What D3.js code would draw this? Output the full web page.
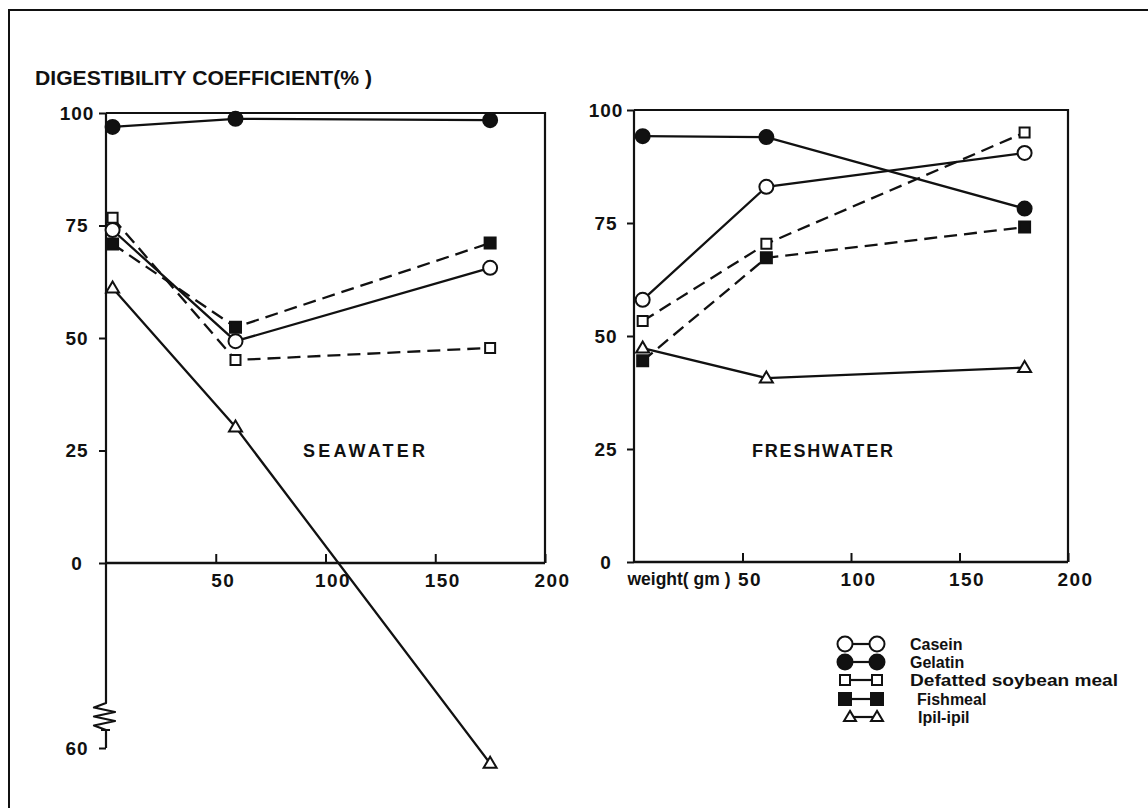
<!DOCTYPE html>
<html>
<head>
<meta charset="utf-8">
<script src="https://cdn.jsdelivr.net/npm/d3@7"></script>
<style>
  html, body { margin: 0; padding: 0; background: #fff; }
  svg { display: block; }
  text { font-family: "Liberation Sans", Arial, sans-serif; font-weight: bold; fill: #111; }
</style>
</head>
<body>
<svg id="chart" width="1148" height="808"></svg>
<script>
// ---- data -------------------------------------------------------------
const seriesNames = ["Casein", "Gelatin", "Defatted soybean meal", "Fishmeal", "Ipil-ipil"];

// body weight (gm) of the fish at each sampling
const seaWeights   = [3, 59, 175];
const freshWeights = [4, 61, 180];

// digestibility coefficient (%) in seawater
const seaCasein   = [74.0, 49.3, 65.6];
const seaGelatin  = [96.9, 98.7, 98.4];
const seaSoybean  = [76.7, 45.1, 47.8];
const seaFishmeal = [70.9, 52.4, 71.1];
const seaIpil     = [61.1, 30.2, -65];

// digestibility coefficient (%) in freshwater
const freshCasein   = [58.0, 83.0, 90.5];
const freshGelatin  = [94.2, 94.0, 78.2];
const freshSoybean  = [53.3, 70.4, 95.0];
const freshFishmeal = [44.5, 67.3, 74.1];
const freshIpil     = [47.3, 40.7, 43.0];

const yTicks = [0, 25, 50, 75, 100];
const xTicks = [50, 100, 150, 200];
const lowTick = -60;

// ---- styling per series ---------------------------------------------
const styles = {
  "Casein":                { shape: "circle",   filled: false, dashed: false },
  "Gelatin":               { shape: "circle",   filled: true,  dashed: false },
  "Defatted soybean meal": { shape: "square",   filled: false, dashed: true  },
  "Fishmeal":              { shape: "square",   filled: true,  dashed: true  },
  "Ipil-ipil":             { shape: "triangle", filled: false, dashed: false }
};

const svg = d3.select("#chart");
const ink = "#111";

// outer frame
svg.append("rect")
  .attr("x", 9).attr("y", 10).attr("width", 1170).attr("height", 830)
  .attr("fill", "none").attr("stroke", ink).attr("stroke-width", 2);

// y-axis title
svg.append("text")
  .attr("x", 35).attr("y", 85)
  .attr("font-size", 20)
  .attr("textLength", 337).attr("lengthAdjust", "spacingAndGlyphs")
  .text("DIGESTIBILITY COEFFICIENT(% )");

// marker outlines; size = radius for circles, side for squares, width for triangles
function markerPath(shape, size) {
  if (shape === "circle") return d3.symbol(d3.symbolCircle, Math.PI * size * size)();
  if (shape === "square") {
    const h = size / 2;
    return `M${-h},${-h}h${size}v${size}h${-size}Z`;
  }
  const w = size, h = size * 0.85;
  return `M0,${-h * 0.6}L${w / 2},${h * 0.4}L${-w / 2},${h * 0.4}Z`;
}
function markerSize(st) {
  if (st.shape === "circle") return 7;
  if (st.shape === "square") return st.filled ? 11 : 10;
  return 13;
}

function drawPanel(cfg) {
  const g = svg.append("g");
  const x = d3.scaleLinear().domain([0, 200]).range([cfg.x0, cfg.x1]);
  const y = d3.scaleLinear().domain(cfg.yDomain).range(cfg.yRange);

  // box: top and right edges, x axis along zero
  g.append("path")
    .attr("d", `M${x(0)},${y(100)}H${x(200)}V${y(0)}`)
    .attr("fill", "none").attr("stroke", ink).attr("stroke-width", 2.2);
  g.append("line")
    .attr("x1", x(0)).attr("x2", x(200)).attr("y1", y(0)).attr("y2", y(0))
    .attr("stroke", ink).attr("stroke-width", 2.6);

  // vertical axis line (with break on the seawater panel)
  if (cfg.broken) {
    const zTop = cfg.breakTop, zBot = cfg.breakBottom, ax = x(0);
    const zig = d3.range(0, 7).map(i => {
      const t = i / 6;
      const off = i === 0 || i === 6 ? 0 : (i % 2 ? -12 : 9);
      return [ax + off, zTop + t * (zBot - zTop)];
    });
    const p = d3.path();
    p.moveTo(ax, y(100)); p.lineTo(ax, zTop);
    zig.forEach(([px, py]) => p.lineTo(px, py));
    p.lineTo(ax, y(lowTick));
    g.append("path").attr("d", p.toString())
      .attr("fill", "none").attr("stroke", ink).attr("stroke-width", 2.2)
      .attr("stroke-linejoin", "round");
    // short cap at the top of the lower segment
    g.append("line").attr("x1", ax - 5).attr("x2", ax + 4)
      .attr("y1", zBot).attr("y2", zBot).attr("stroke", ink).attr("stroke-width", 2);
  } else {
    g.append("line").attr("x1", x(0)).attr("x2", x(0))
      .attr("y1", y(100)).attr("y2", y(0))
      .attr("stroke", ink).attr("stroke-width", 2.2);
  }

  // y axis ticks + labels (labels centred in the margin)
  const yAxis = d3.axisLeft(y)
    .tickValues(cfg.broken ? yTicks.concat([lowTick]) : yTicks)
    .tickSize(7)
    .tickFormat(d => String(Math.abs(d)));
  const ya = g.append("g").attr("transform", `translate(${x(0)},0)`).call(yAxis);
  ya.select(".domain").remove();
  ya.selectAll(".tick line").attr("stroke", ink).attr("stroke-width", 2);
  ya.selectAll(".tick text").attr("font-size", 19).attr("fill", ink)
    .attr("font-family", null).attr("letter-spacing", 1)
    .attr("text-anchor", "middle").attr("x", cfg.yLabelX);

  // x axis ticks (pointing up into the plot) + labels
  const xAxis = d3.axisBottom(x).tickValues(xTicks).tickSize(-9).tickPadding(11)
    .tickFormat(d3.format("d"));
  const xa = g.append("g").attr("transform", `translate(0,${y(0)})`).call(xAxis);
  xa.select(".domain").remove();
  xa.selectAll(".tick line").attr("stroke", ink).attr("stroke-width", 2);
  xa.selectAll(".tick text").attr("font-size", 19).attr("fill", ink)
    .attr("font-family", null).attr("letter-spacing", 1.5).attr("dx", 7);

  if (cfg.xTitle) {
    g.append("text").attr("x", x(50) - 12).attr("y", y(0) + 11).attr("dy", "0.71em")
      .attr("text-anchor", "end").attr("font-size", 17.5).text(cfg.xTitle);
  }

  // panel caption
  g.append("text").attr("x", cfg.label.x).attr("y", cfg.label.y)
    .attr("font-size", 18)
    .attr("textLength", cfg.label.w).attr("lengthAdjust", "spacing")
    .text(cfg.label.text);

  // series lines
  const line = d3.line().x(d => x(d[0])).y(d => y(d[1]));
  cfg.series.forEach(s => {
    const st = styles[s.name];
    g.append("path")
      .datum(cfg.weights.map((w, i) => [w, s.values[i]]))
      .attr("d", line)
      .attr("fill", "none").attr("stroke", ink).attr("stroke-width", 2.3)
      .attr("stroke-dasharray", st.dashed ? "13,7" : null);
  });
  // markers on top
  cfg.series.forEach(s => {
    const st = styles[s.name];
    g.selectAll(null)
      .data(cfg.weights.map((w, i) => [w, s.values[i]]))
      .join("path")
      .attr("transform", d => `translate(${x(d[0])},${y(d[1])})`)
      .attr("d", markerPath(st.shape, markerSize(st)))
      .attr("fill", st.filled ? ink : "#fff")
      .attr("stroke", ink).attr("stroke-width", 2);
  });
}

drawPanel({
  x0: 106, x1: 545,
  yDomain: [lowTick, 0, 100], yRange: [748, 563, 113],
  broken: true, breakTop: 703, breakBottom: 730,
  yLabelX: -29,
  weights: seaWeights,
  label: { text: "SEAWATER", x: 303, y: 457, w: 122 },
  series: [
    { name: "Casein", values: seaCasein },
    { name: "Gelatin", values: seaGelatin },
    { name: "Defatted soybean meal", values: seaSoybean },
    { name: "Fishmeal", values: seaFishmeal },
    { name: "Ipil-ipil", values: seaIpil }
  ]
});

drawPanel({
  x0: 634, x1: 1068,
  yDomain: [0, 100], yRange: [562, 110],
  broken: false,
  yLabelX: -28,
  weights: freshWeights,
  xTitle: "weight( gm )",
  label: { text: "FRESHWATER", x: 752, y: 457, w: 141 },
  series: [
    { name: "Casein", values: freshCasein },
    { name: "Gelatin", values: freshGelatin },
    { name: "Defatted soybean meal", values: freshSoybean },
    { name: "Fishmeal", values: freshFishmeal },
    { name: "Ipil-ipil", values: freshIpil }
  ]
});

// ---- legend -----------------------------------------------------------
const legendRows = [644, 662, 680, 699, 717];
const legendTextX = [910, 910, 910, 917, 918];
const lg = svg.append("g");
seriesNames.forEach((name, i) => {
  const st = styles[name];
  const xa = st.shape === "triangle" ? 850 : 845, xb = 877;
  const yy = legendRows[i];
  lg.append("line").attr("x1", xa).attr("x2", xb).attr("y1", yy).attr("y2", yy)
    .attr("stroke", ink).attr("stroke-width", 2.2);
  const sz = st.shape === "circle" ? 7.5 : st.shape === "square" ? (st.filled ? 12 : 10) : 12;
  [xa, xb].forEach(px => {
    lg.append("path").attr("transform", `translate(${px},${yy})`)
      .attr("d", markerPath(st.shape, sz))
      .attr("fill", st.filled ? ink : "#fff")
      .attr("stroke", ink).attr("stroke-width", 2);
  });
  const t = lg.append("text").attr("x", legendTextX[i]).attr("y", yy + 6)
    .attr("font-size", 16).text(name);
  if (name === "Defatted soybean meal") t.attr("textLength", 208).attr("lengthAdjust", "spacingAndGlyphs");
});
</script>
</body>
</html>
